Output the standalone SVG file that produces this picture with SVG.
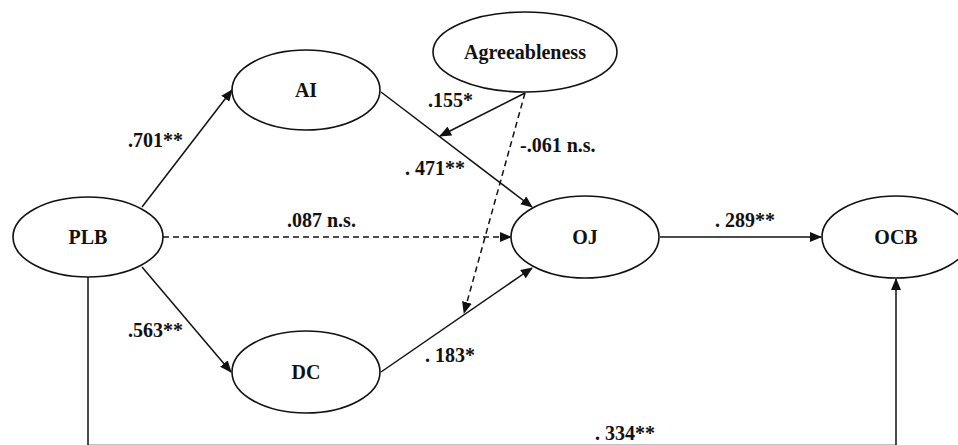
<svg xmlns="http://www.w3.org/2000/svg" width="958" height="445" viewBox="0 0 958 445">
<defs>
<marker id="arr" markerWidth="12" markerHeight="10" refX="11" refY="5" orient="auto" markerUnits="userSpaceOnUse">
<path d="M0,0 L12,5 L0,10 Z" fill="#111"/>
</marker>
<style>
.node ellipse{fill:#fff;stroke:#111;stroke-width:1.6}
.node text{font-family:"Liberation Serif","Times New Roman",serif;font-weight:bold;font-size:20px;fill:#111;text-anchor:middle}
.conn line,.conn path{stroke:#111;stroke-width:1.5;fill:none}
.conn .dash{stroke-dasharray:6 4}
.lbl{font-family:"Liberation Serif","Times New Roman",serif;font-weight:bold;font-size:20px;fill:#111}
</style>
</defs>
<rect width="958" height="445" fill="#fff"/>
<g class="conn" id="connectors">
<line x1="142" y1="207" x2="232" y2="90" marker-end="url(#arr)"/>
<line x1="142" y1="267" x2="231" y2="372" marker-end="url(#arr)"/>
<line class="dash" x1="163" y1="237" x2="511" y2="237" marker-end="url(#arr)"/>
<line x1="381" y1="92" x2="532" y2="207" marker-end="url(#arr)"/>
<line x1="381" y1="372" x2="532" y2="268" marker-end="url(#arr)"/>
<line x1="525" y1="93" x2="440" y2="136" marker-end="url(#arr)"/>
<line class="dash" x1="525" y1="93" x2="464" y2="313" marker-end="url(#arr)"/>
<line x1="660" y1="237" x2="821" y2="237" marker-end="url(#arr)"/>
<path d="M88,277 V445.6 H896 V279" stroke-width="1.3" marker-end="url(#arr)"/>
</g>
<g class="node" id="node-agreeableness"><ellipse cx="525" cy="52" rx="92" ry="40"/><text x="525" y="59">Agreeableness</text></g>
<g class="node" id="node-ai"><ellipse cx="306" cy="90" rx="74" ry="40"/><text x="306" y="97">AI</text></g>
<g class="node" id="node-plb"><ellipse cx="88" cy="237" rx="75" ry="40"/><text x="88" y="244">PLB</text></g>
<g class="node" id="node-dc"><ellipse cx="306" cy="372" rx="74" ry="41"/><text x="306" y="379">DC</text></g>
<g class="node" id="node-oj"><ellipse cx="585" cy="237" rx="74" ry="41"/><text x="585" y="244">OJ</text></g>
<g class="node" id="node-ocb"><ellipse cx="896" cy="237" rx="74" ry="41"/><text x="896" y="244">OCB</text></g>
<g id="labels">
<text class="lbl" x="128" y="147">.701**</text>
<text class="lbl" x="128" y="337">.563**</text>
<text class="lbl" x="428" y="107">.155*</text>
<text class="lbl" x="405" y="175">. 471**</text>
<text class="lbl" x="520" y="152">-.061 n.s.</text>
<text class="lbl" x="287" y="227">.087 n.s.</text>
<text class="lbl" x="425" y="362">. 183*</text>
<text class="lbl" x="715" y="227">. 289**</text>
<text class="lbl" x="595" y="440">. 334**</text>
</g>
</svg>
